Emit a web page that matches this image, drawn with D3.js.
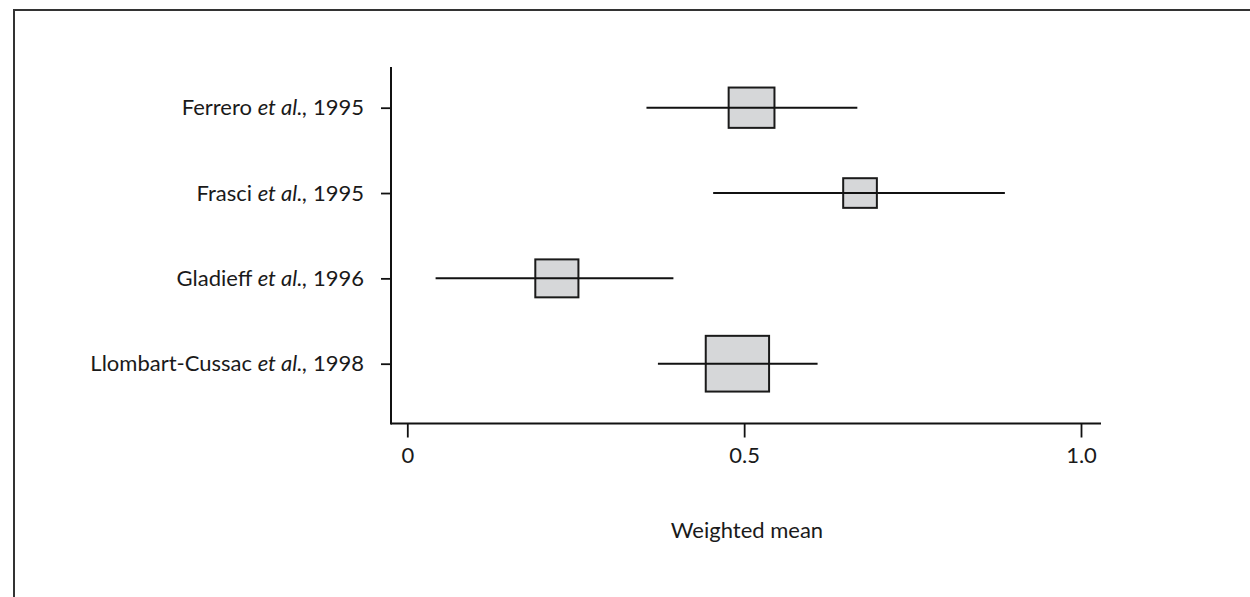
<!DOCTYPE html>
<html>
<head>
<meta charset="utf-8">
<script src="https://cdn.jsdelivr.net/npm/d3@7"></script>
<style>
  html, body { margin: 0; padding: 0; background: #fff; }
  svg { display: block; }
  text { font-family: Lato, "Open Sans", sans-serif; fill: #1a1a1a; }
</style>
</head>
<body>
<svg id="chart" width="1250" height="597"></svg>
<script>
// study labels (author + year), "et al." is set in italics
const authors = ['Ferrero', 'Frasci', 'Gladieff', 'Llombart-Cussac'];
const years   = [1995, 1995, 1996, 1998];

// weighted mean with its interval, box width = study weight (in x units)
const means   = [0.511, 0.672, 0.222, 0.490];
const lower   = [0.355, 0.454, 0.042, 0.372];
const upper   = [0.668, 0.887, 0.395, 0.609];
const weights = [0.068, 0.050, 0.064, 0.094];

const xTickValues = [0, 0.5, 1];
const xTickLabels = ['0', '0.5', '1.0'];

const data = authors.map((a, i) => ({
  key: a, year: years[i], mean: means[i], lo: lower[i], hi: upper[i], w: weights[i]
}));

const svg = d3.select('#chart');

// outer frame (runs off the right / bottom edge like the source)
svg.append('rect')
  .attr('x', 14).attr('y', 10)
  .attr('width', 1300).attr('height', 700)
  .attr('fill', 'none').attr('stroke', '#333').attr('stroke-width', 2);

const axisX = 391, axisY = 423.5;

const x = d3.scaleLinear().domain([0, 1]).range([407.3, 1081]);
const y = d3.scalePoint().domain(authors).range([107.7, 363.7]);

// x axis
const gx = svg.append('g')
  .attr('transform', `translate(0,${axisY})`)
  .call(d3.axisBottom(x)
    .tickValues(xTickValues)
    .tickFormat((d, i) => xTickLabels[i])
    .tickSize(14).tickPadding(10));
gx.select('.domain').remove();
gx.append('line')
  .attr('x1', axisX).attr('x2', 1101)
  .attr('stroke', '#111').attr('stroke-width', 2);
gx.selectAll('.tick line').attr('stroke', '#111').attr('stroke-width', 1.8);
gx.selectAll('.tick text')
  .attr('font-size', 22).attr('fill', '#1a1a1a')
  .style('font-family', 'Lato, sans-serif');

// y axis
const gy = svg.append('g')
  .attr('transform', `translate(${axisX},0)`)
  .call(d3.axisLeft(y).tickSize(10).tickPadding(17));
gy.select('.domain').remove();
gy.append('line')
  .attr('y1', 67).attr('y2', axisY + 1)
  .attr('stroke', '#111').attr('stroke-width', 2);
gy.selectAll('.tick line').attr('stroke', '#111').attr('stroke-width', 1.8);
gy.selectAll('.tick text')
  .attr('font-size', 22).attr('fill', '#1a1a1a')
  .style('font-family', 'Lato, sans-serif')
  .text(null)
  .each(function(d, i) {
    const t = d3.select(this);
    t.append('tspan').text(d + ' ');
    t.append('tspan').attr('font-style', 'italic').text('et al.,');
    t.append('tspan').text(' ' + years[i]);
  });

// whiskers
svg.append('g').selectAll('line')
  .data(data)
  .join('line')
  .attr('x1', d => x(d.lo)).attr('x2', d => x(d.hi))
  .attr('y1', d => y(d.key)).attr('y2', d => y(d.key))
  .attr('stroke', '#111').attr('stroke-width', 2);

// weight boxes
const boxAspect = 0.88;
svg.append('g').selectAll('rect')
  .data(data)
  .join('rect')
  .attr('x', d => x(d.mean - d.w / 2))
  .attr('width', d => x(d.mean + d.w / 2) - x(d.mean - d.w / 2))
  .attr('y', d => y(d.key) - (x(d.w) - x(0)) * boxAspect / 2)
  .attr('height', d => (x(d.w) - x(0)) * boxAspect)
  .attr('fill', '#d6d7d9').attr('stroke', '#1a1a1a').attr('stroke-width', 2);

// whisker line drawn again across the box, as in the source
svg.append('g').selectAll('line')
  .data(data)
  .join('line')
  .attr('x1', d => x(d.mean - d.w / 2)).attr('x2', d => x(d.mean + d.w / 2))
  .attr('y1', d => y(d.key)).attr('y2', d => y(d.key))
  .attr('stroke', '#111').attr('stroke-width', 2);

// axis title
svg.append('text')
  .attr('x', 747).attr('y', 538)
  .attr('text-anchor', 'middle')
  .attr('font-size', 22)
  .text('Weighted mean');
</script>
</body>
</html>
